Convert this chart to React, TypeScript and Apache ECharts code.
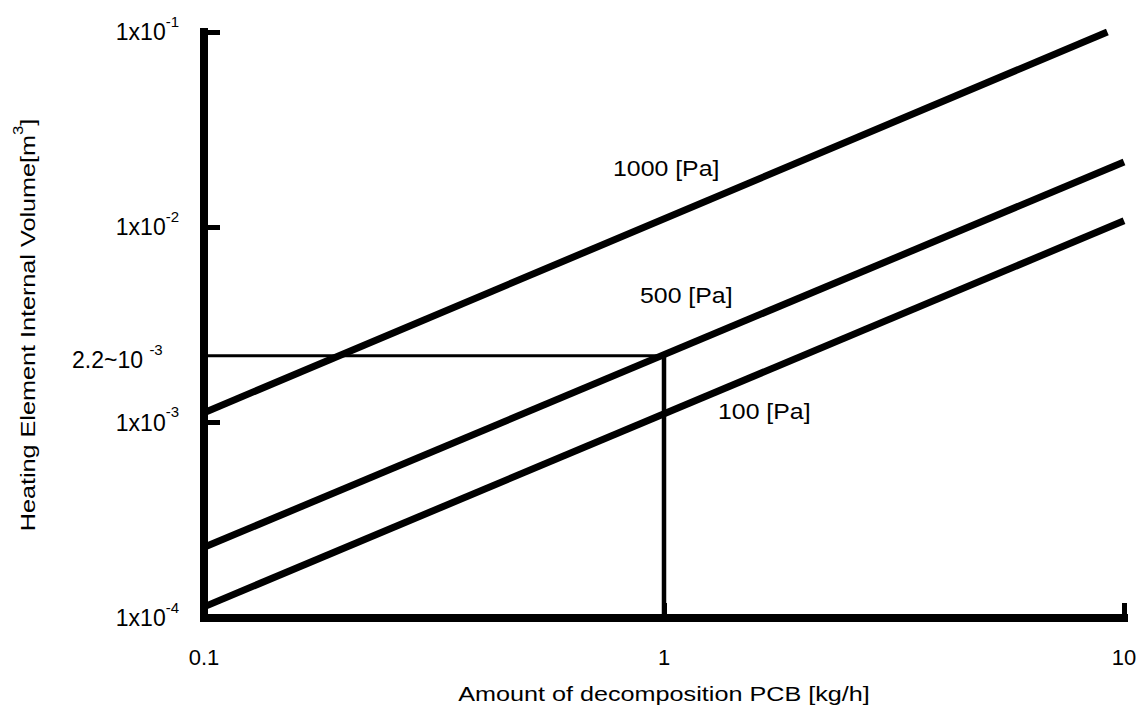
import React, { useEffect, useRef } from "react";
import * as echarts from "echarts";

// ---- data ----
const xTickLabels = ["0.1", "1", "10"];
const yTickExponents = [-4, -3, -2, -1];
const seriesNames = ["1000 [Pa]", "500 [Pa]", "100 [Pa]"];
const x1000 = [0.1, 9.2];
const y1000 = [1.125e-3, 1.0e-1];
const x500 = [0.1, 10];
const y500 = [2.3e-4, 2.16e-2];
const x100 = [0.1, 10];
const y100 = [1.14e-4, 1.08e-2];
const refX = 1;
const refY = 2.2e-3;
const xMin = 0.1;
const xMax = 10;
const yMin = 1e-4;
const yMax = 1e-1;

const FONT = "'Liberation Sans', Arial, Helvetica, sans-serif";

const zip = (xs: number[], ys: number[]) => xs.map((x, i) => [x, ys[i]]);

export default function App() {
  const ref = useRef<HTMLDivElement>(null);
  useEffect(() => {
    if (!ref.current) return;
    document.body.style.margin = "0";
    document.body.style.overflow = "hidden";
    const chart = echarts.init(ref.current, null, { renderer: "svg" });
    const supRich = {
      a: { fontSize: 23, lineHeight: 37, fontFamily: FONT, color: "#000" },
      b: { fontSize: 15, lineHeight: 15, verticalAlign: "top", fontFamily: FONT, color: "#000" },
    };
    const lineStyle = (w: number) => ({ color: "#000", width: w });
    chart.setOption({
      animation: false,
      backgroundColor: "#fff",
      grid: { left: 204, right: 17, top: 32, bottom: 93, containLabel: false },
      xAxis: {
        type: "log",
        logBase: 10,
        min: xMin,
        max: xMax,
        axisLine: { show: true, lineStyle: { color: "#000", width: 8, cap: "square" } },
        axisTick: { show: true, inside: true, length: 15, lineStyle: { color: "#000", width: 5 } },
        minorTick: { show: false },
        splitLine: { show: false },
        axisLabel: {
          margin: 28,
          fontSize: 22,
          fontFamily: FONT,
          color: "#000",
          formatter: (v: number) => {
            const e = Math.round(Math.log10(v));
            return xTickLabels[e + 1] ?? String(v);
          },
        },
      },
      yAxis: {
        type: "log",
        logBase: 10,
        min: yMin,
        max: yMax,
        axisLine: { show: true, lineStyle: { color: "#000", width: 8, cap: "square" } },
        axisTick: { show: true, inside: true, length: 16, lineStyle: { color: "#000", width: 5 } },
        minorTick: { show: false },
        splitLine: { show: false },
        axisLabel: {
          margin: 25,
          color: "#000",
          formatter: (v: number) => {
            const e = Math.round(Math.log10(v));
            const ex = yTickExponents.includes(e) ? e : e;
            return `{a|1x10}{b|${ex}}`;
          },
          rich: supRich,
        },
      },
      series: [
        { name: seriesNames[0], type: "line", data: zip(x1000, y1000), symbol: "none", lineStyle: lineStyle(7) },
        { name: seriesNames[1], type: "line", data: zip(x500, y500), symbol: "none", lineStyle: lineStyle(7) },
        { name: seriesNames[2], type: "line", data: zip(x100, y100), symbol: "none", lineStyle: lineStyle(7) },
        { type: "line", data: [[xMin, refY], [refX, refY]], symbol: "none", lineStyle: lineStyle(3) },
        { type: "line", data: [[refX, yMin], [refX, refY]], symbol: "none", lineStyle: lineStyle(4.5) },
      ],
      graphic: [
        { type: "text", x: 613, y: 169, scaleX: 1.13, style: { text: seriesNames[0], font: `22px ${FONT}`, fill: "#000", textAlign: "left", textVerticalAlign: "middle" } },
        { type: "text", x: 640, y: 296, scaleX: 1.13, style: { text: seriesNames[1], font: `22px ${FONT}`, fill: "#000", textAlign: "left", textVerticalAlign: "middle" } },
        { type: "text", x: 718, y: 412, scaleX: 1.13, style: { text: seriesNames[2], font: `22px ${FONT}`, fill: "#000", textAlign: "left", textVerticalAlign: "middle" } },
        {
          type: "text", x: 72, y: 360,
          style: { text: "{a|2.2~10 }{b|-3}", rich: supRich, textAlign: "left", textVerticalAlign: "middle" },
        },
        {
          type: "text", x: 664, y: 694, scaleX: 1.2,
          style: { text: "Amount of decomposition PCB [kg/h]", font: `21px ${FONT}`, fill: "#000", textAlign: "center", textVerticalAlign: "middle" },
        },
        {
          type: "text", x: 28, y: 325, rotation: Math.PI / 2, scaleX: 1.2,
          style: {
            text: "{a|Heating Element Internal Volume[m}{b|3}{a|]}",
            rich: {
              a: { fontSize: 21, lineHeight: 33, fontFamily: FONT, color: "#000" },
              b: { fontSize: 14, lineHeight: 14, verticalAlign: "top", fontFamily: FONT, color: "#000" },
            },
            textAlign: "center", textVerticalAlign: "middle",
          },
        },
      ],
    });
    return () => chart.dispose();
  }, []);
  return <div ref={ref} style={{ position: "fixed", left: 0, top: 0, width: 1141, height: 711 }} />;
}
